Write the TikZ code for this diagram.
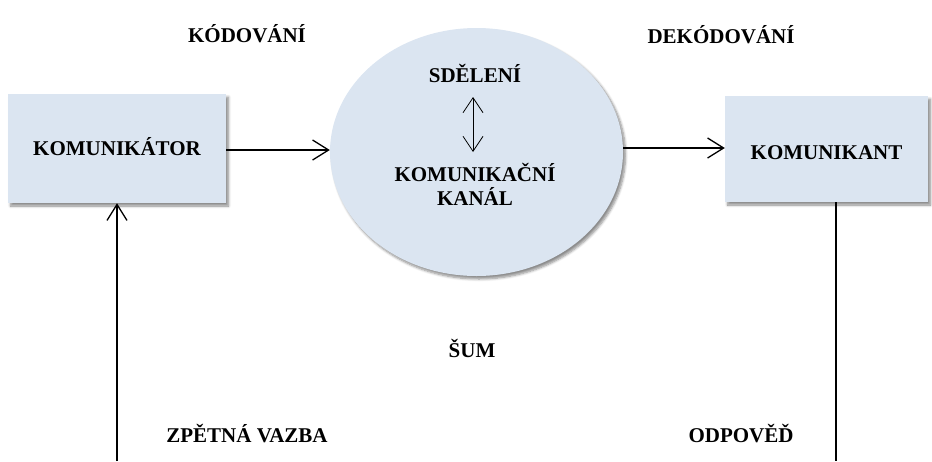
\documentclass[tikz,border=0pt]{standalone}
\usepackage{fontspec}
\setmainfont{Liberation Serif}
\usetikzlibrary{arrows.meta,shapes.geometric,shadows.blur}
\definecolor{boxfill}{RGB}{219,229,241}
\tikzset{
  lbl/.style={font=\fontsize{21}{24}\selectfont\bfseries, inner sep=0pt, anchor=base},
  boxnode/.style={rectangle, fill=boxfill, draw=none, inner sep=0pt,
    font=\fontsize{21}{24}\selectfont\bfseries, text height=14pt, text depth=0pt,
    blur shadow={shadow xshift=2.5pt, shadow yshift=-3pt, shadow blur steps=6, shadow blur radius=2.5pt, shadow opacity=45}},
  chan/.style={ellipse, fill=boxfill, draw=none, inner sep=0pt,
    blur shadow={shadow xshift=2.5pt, shadow yshift=-3pt, shadow blur steps=6, shadow blur radius=2.5pt, shadow opacity=45}},
  flow/.style={line width=1.3pt, -{Straight Barb[length=16pt, width=20pt, line width=1.3pt]}},
  dbl/.style={line width=0.8pt, {Straight Barb[length=15pt, width=20pt, line width=0.8pt]}-{Straight Barb[length=15pt, width=20pt, line width=0.8pt]}},
  plain/.style={line width=1.3pt}
}
\begin{document}
\begin{tikzpicture}[x=1pt,y=-1pt]
\useasboundingbox (0,0) rectangle (932,461);
% boxes
\node[boxnode, minimum width=218pt, minimum height=109pt] (komunikator) at (117,148.5) {KOMUNIKÁTOR};
\node[chan, minimum width=293pt, minimum height=248pt] (kanal) at (476.5,152) {};
\node[boxnode, minimum width=203pt, minimum height=106pt] (komunikant) at (826.5,149) {\raisebox{-3pt}{KOMUNIKANT}};
% texts inside the channel
\node[lbl] (sdeleni) at (475,82) {SDĚLENÍ};
\node[lbl] (kk1) at (475,181) {KOMUNIKAČNÍ};
\node[lbl] (kk2) at (475,205) {KANÁL};
\coordinate (dtop) at (473,97);
\coordinate (dbot) at (473,152);
\draw[dbl] (dtop) -- (dbot);
% free labels
\node[lbl] (kod) at (247,42) {KÓDOVÁNÍ};
\node[lbl] (dekod) at (721,43) {DEKÓDOVÁNÍ};
\node[lbl] (sum) at (472,357) {ŠUM};
\node[lbl] (zpet) at (247,442) {ZPĚTNÁ VAZBA};
\node[lbl] (odp) at (741,442) {ODPOVĚĎ};
% connectors
\coordinate (fb) at (117,461);
\coordinate (od) at (836,461);
\draw[flow] (komunikator.east |- 0,150) -- (kanal.west |- 0,150);
\draw[flow] (kanal.east |- 0,148) -- (komunikant.west |- 0,148);
\draw[flow] (fb) -- (komunikator.south);
\draw[plain] (komunikant.south -| od) -- (od);
\end{tikzpicture}
\end{document}
